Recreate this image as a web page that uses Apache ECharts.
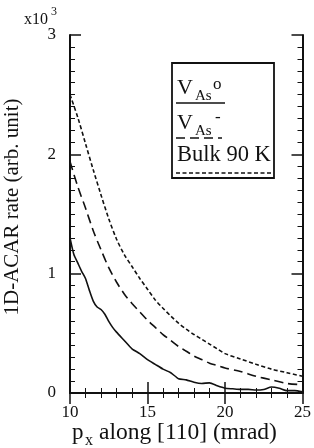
<!DOCTYPE html>
<html lang="en">
<head>
    <meta charset="UTF-8">
    <title>1D-ACAR</title>
    <script src="https://cdn.jsdelivr.net/npm/echarts@6/dist/echarts.min.js"></script>
    <style>
        html, body { margin: 0; padding: 0; background: #fff; }
    </style>
</head>
<body>
    <div id="main" style="width: 314px;height:448px;"></div>
    <script type="text/javascript">
    // px along [110] (mrad) for the two dashed curves
    var pxDash = [10, 10.5, 11, 11.5, 12, 12.5, 13, 13.5, 14, 14.5, 15, 15.5, 16, 16.5, 17, 17.5,
                  18, 18.5, 19, 19.5, 20, 21, 22, 23, 24, 25];
    // Bulk 90 K (short dash)
    var bulk = [2.50, 2.31, 2.09, 1.87, 1.66, 1.46, 1.29, 1.16, 1.06, 0.96, 0.87, 0.78, 0.71, 0.645, 0.585, 0.535,
                0.49, 0.45, 0.41, 0.37, 0.33, 0.285, 0.24, 0.20, 0.17, 0.14];
    // V_As- (long dash)
    var vasMinus = [1.94, 1.73, 1.55, 1.36, 1.20, 1.05, 0.93, 0.83, 0.75, 0.68, 0.61, 0.55, 0.49, 0.44, 0.39, 0.35,
                    0.31, 0.28, 0.25, 0.23, 0.21, 0.18, 0.14, 0.11, 0.08, 0.07];
    // V_As0 (solid), finer sampling
    var pxSolid = [10, 10.25, 10.5, 10.75, 11, 11.25, 11.5, 11.75, 12, 12.25, 12.5, 12.75, 13, 13.5, 14, 14.5,
                   15, 15.5, 16, 16.5, 17, 17.5, 18, 18.5, 19, 19.5, 20, 20.5, 21, 21.5, 22, 22.5,
                   23, 23.5, 24, 24.5, 25];
    var vasZero = [1.30, 1.16, 1.09, 1.02, 0.96, 0.86, 0.77, 0.72, 0.70, 0.66, 0.60, 0.55, 0.51, 0.44, 0.37, 0.33,
                   0.28, 0.24, 0.20, 0.17, 0.12, 0.11, 0.09, 0.08, 0.085, 0.06, 0.04, 0.035, 0.03, 0.03, 0.025, 0.03,
                   0.05, 0.04, 0.02, 0.02, 0.01];
    var xTicks = [10, 15, 20, 25];
    var yTicks = [0, 1, 2, 3];

    function pairs(xs, ys) {
        return xs.map(function (x, i) { return [x, ys[i]]; });
    }

    var serif = 'Liberation Serif';
    var ink = '#111';

    function axisBase(show) {
        return {
            axisLine: { show: true, lineStyle: { color: ink, width: 2 } },
            axisTick: { show: true, inside: true, length: 11, lineStyle: { color: ink, width: 1.5 } },
            minorTick: { show: true, length: 5, lineStyle: { color: ink, width: 1 } },
            splitLine: { show: false },
            axisLabel: { show: show, color: ink, fontFamily: serif, fontSize: 17 }
        };
    }

    var xb = axisBase(true);
    xb.type = 'value'; xb.min = xTicks[0]; xb.max = xTicks[xTicks.length - 1]; xb.interval = 5;
    xb.minorTick.splitNumber = 5; xb.axisLabel.margin = 11; xb.position = 'bottom';
    var xt = axisBase(false);
    xt.type = 'value'; xt.min = xTicks[0]; xt.max = xTicks[xTicks.length - 1]; xt.interval = 5;
    xt.minorTick.splitNumber = 5; xt.position = 'top';

    var yl = axisBase(true);
    yl.type = 'value'; yl.min = yTicks[0]; yl.max = yTicks[yTicks.length - 1]; yl.interval = 1;
    yl.minorTick.splitNumber = 10; yl.axisLabel.margin = 14; yl.position = 'left';
    var yr = axisBase(false);
    yr.type = 'value'; yr.min = yTicks[0]; yr.max = yTicks[yTicks.length - 1]; yr.interval = 1;
    yr.minorTick.splitNumber = 10; yr.position = 'right';

    function txt(s, x, y, size, align) {
        return {
            type: 'text', x: x, y: y,
            style: { text: s, fontFamily: serif, fontSize: size, fill: ink,
                     align: align || 'left', verticalAlign: 'middle' }
        };
    }
    function seg(x1, y1, x2, y2, dash) {
        return {
            type: 'line', shape: { x1: x1, y1: y1, x2: x2, y2: y2 },
            style: { stroke: ink, lineWidth: 1.6, lineDash: dash || null }
        };
    }

    var myChart = echarts.init(document.getElementById('main'));
    var option = {
        animation: false,
        grid: { left: 70, right: 9, top: 35, bottom: 55 },
        xAxis: [xb, xt],
        yAxis: [yl, yr],
        series: [
            {
                name: 'VAs0', type: 'line', xAxisIndex: 0, yAxisIndex: 0,
                showSymbol: false, smooth: 0.2,
                lineStyle: { color: ink, width: 1.6, type: 'solid' },
                data: pairs(pxSolid, vasZero)
            },
            {
                name: 'VAs-', type: 'line', xAxisIndex: 0, yAxisIndex: 0,
                showSymbol: false, smooth: 0.3,
                lineStyle: { color: ink, width: 1.6, type: [9, 5] },
                data: pairs(pxDash, vasMinus)
            },
            {
                name: 'Bulk 90 K', type: 'line', xAxisIndex: 0, yAxisIndex: 0,
                showSymbol: false, smooth: 0.3,
                lineStyle: { color: ink, width: 1.6, type: [4, 2.5] },
                data: pairs(pxDash, bulk)
            }
        ],
        graphic: [
            // x10^3 multiplier
            txt('x10', 24, 20, 16),
            txt('3', 51, 12, 12),
            // y axis title
            {
                type: 'text', x: 12, y: 207, rotation: Math.PI / 2,
                style: { text: '1D-ACAR rate (arb. unit)', fontFamily: serif, fontSize: 21, fill: ink,
                         align: 'center', verticalAlign: 'middle' }
            },
            // x axis title
            txt('p', 72, 433, 23),
            txt('x', 85, 441, 16),
            txt('along [110] (mrad)', 99, 433, 23.5),
            // legend box
            {
                type: 'rect', shape: { x: 172, y: 63, width: 102, height: 115 },
                style: { fill: '#fff', stroke: ink, lineWidth: 1.8 }
            },
            txt('V', 177, 88, 22),
            txt('As', 195, 96, 15),
            txt('o', 213, 85, 17),
            seg(176, 103, 225, 103),
            txt('V', 177, 123, 22),
            txt('As', 195, 131, 15),
            txt('-', 215, 118, 17),
            seg(176, 138, 222, 138, [9, 5]),
            txt('Bulk 90 K', 177, 155, 22.5),
            seg(176, 173, 271, 173, [4, 2.5])
        ]
    };
    myChart.setOption(option);
    </script>
</body>
</html>
